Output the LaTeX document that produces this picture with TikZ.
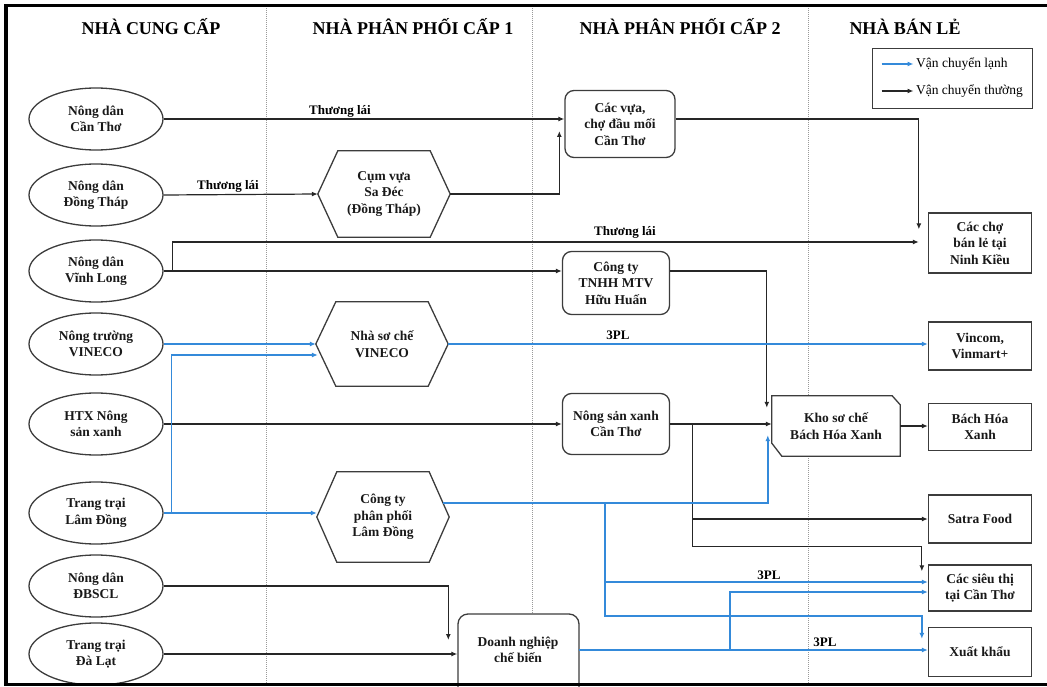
\documentclass[tikz,border=0pt]{standalone}
\usepackage{fontspec}
\setmainfont{Liberation Serif}
\usetikzlibrary{arrows.meta,shapes.geometric,calc}
\pgfdeclarelayer{background}
\pgfsetlayers{background,main}
\definecolor{lblue}{RGB}{52,138,218}
\definecolor{lgray}{RGB}{60,60,60}
\newcommand\hexo[1]{\draw[hexl] ([xshift=20pt]#1.north west) -- ([xshift=-20pt]#1.north east) -- (#1.east) -- ([xshift=-20pt]#1.south east) -- ([xshift=20pt]#1.south west) -- (#1.west) -- cycle;}
\begin{document}
\begin{tikzpicture}[x=1pt,y=-1pt,
  txt/.style={font=\bfseries\fontsize{13.5}{16.5}\selectfont, align=center, text=black!90},
  ell/.style={txt, ellipse, draw=lgray, line width=1.3pt, fill=white, minimum width=134pt, minimum height=62pt, inner sep=0pt},
  hexn/.style={txt, minimum width=132pt, inner sep=0pt},
  hexl/.style={draw=lgray, line width=1.3pt, line join=miter},
  rbox/.style={txt, rectangle, rounded corners=9pt, draw=lgray, line width=1.3pt, fill=white, inner sep=0pt},
  sbox/.style={txt, rectangle, draw=lgray, line width=1.3pt, fill=white, minimum width=103pt, inner sep=0pt},
  head/.style={font=\bfseries\fontsize{18}{20}\selectfont, anchor=base, inner sep=0pt},
  lbl/.style={font=\bfseries\fontsize{13}{15}\selectfont, inner sep=0pt},
  legtxt/.style={font=\fontsize{13.5}{15}\selectfont, inner sep=2pt, anchor=west},
  smalltip/.style={-{Latex[length=6pt,width=5pt]}},
  blk/.style={draw=black!85, line width=1.2pt, smalltip},
  blu/.style={draw=lblue, line width=1.4pt, smalltip},
  sepl/.style={draw=gray!80, line width=0.9pt, dash pattern=on 1pt off 1pt}
]
\path[use as bounding box] (0,0) rectangle (1047,687);
\clip (0,0) rectangle (1047,687);

% headers
\node[head] (h1) at (151,35) {NHÀ CUNG CẤP};
\node[head] (h2) at (413,35) {NHÀ PHÂN PHỐI CẤP 1};
\node[head] (h3) at (680,35) {NHÀ PHÂN PHỐI CẤP 2};
\node[head] (h4) at (905,35) {NHÀ BÁN LẺ};

% legend
\node[draw=lgray, line width=1pt, minimum width=160pt, minimum height=60pt, inner sep=0pt] (legend) at (952,79) {};
\draw[blu] ($(legend.west)+(10,-15)$) -- ++(32,0) node[legtxt] (leg1) {Vận chuyển lạnh};
\draw[blk] ($(legend.west)+(10,12)$) -- ++(32,0) node[legtxt] (leg2) {Vận chuyển thường};

% suppliers
\node[ell] (e1) at (96,119) {Nông dân\\Cần Thơ};
\node[ell] (e2) at (96,195) {Nông dân\\Đồng Tháp};
\node[ell] (e3) at (96,271) {Nông dân\\Vĩnh Long};
\node[ell] (e4) at (96,344) {Nông trường\\VINECO};
\node[ell] (e5) at (96,424) {HTX Nông\\sản xanh};
\node[ell] (e6) at (96,513) {Trang trại\\Lâm Đồng};
\node[ell] (e7) at (96,586) {Nông dân\\ĐBSCL};
\node[ell] (e8) at (96,654) {Trang trại\\Đà Lạt};

% level 1
\node[hexn, minimum height=86pt] (sadec) at (384,194) {Cụm vựa\\Sa Đéc\\(Đồng Tháp)};
\hexo{sadec}
\node[hexn, minimum height=84pt] (vineco) at (382,344) {Nhà sơ chế\\VINECO};
\hexo{vineco}
\node[hexn, minimum height=90pt] (lamdong) at (383,517) {Công ty\\phân phối\\Lâm Đồng};
\hexo{lamdong}
\draw[draw=lgray, line width=1.3pt, fill=white, rounded corners=10pt] (458,700) -- (458,614) -- (579,614) -- (579,700);
\node[txt, minimum width=121pt, inner sep=0pt] (dn) at (518,650) {Doanh nghiệp\\chế biến};

% level 2
\node[rbox, minimum width=110pt, minimum height=67pt] (cacvua) at (620,124) {Các vựa,\\chợ đầu mối\\Cần Thơ};
\node[rbox, minimum width=107pt, minimum height=63pt] (huuhuan) at (616,283) {Công ty\\TNHH MTV\\Hữu Huấn};
\node[rbox, minimum width=107pt, minimum height=61pt] (nsx) at (616,424) {Nông sản xanh\\Cần Thơ};
\node[txt, minimum width=128pt, minimum height=60pt, inner sep=0pt] (kho) at (836,426) {Kho sơ chế\\Bách Hóa Xanh};

% retailers
\node[sbox, minimum height=60pt] (cho) at (980,243) {Các chợ\\bán lẻ tại\\Ninh Kiều};
\node[sbox, minimum height=48pt] (vincom) at (980,346) {Vincom,\\Vinmart+};
\node[sbox, minimum height=47pt] (bhx) at (980,427) {Bách Hóa\\Xanh};
\node[sbox, minimum height=48pt] (satra) at (980,519) {Satra Food};
\node[sbox, minimum height=46pt] (sieuthi) at (980,588) {Các siêu thị\\tại Cần Thơ};
\node[sbox, minimum height=49pt] (xk) at (980,652) {Xuất khẩu};

% background: separators and Kho outline
\begin{pgfonlayer}{background}
\draw[sepl] (266,8) -- (266,683);
\draw[sepl] (532,8) -- (532,683);
\draw[sepl] (808,8) -- (808,683);
\draw[draw=lgray, line width=1.3pt, fill=white] (kho.north west) -- ([xshift=-8pt]kho.north east) -- ([yshift=-9pt]kho.north east) -- (kho.south east) -- ([xshift=10pt]kho.south west) -- ([yshift=13pt]kho.south west) -- cycle;
\end{pgfonlayer}

% black connectors
\draw[blk] (e1.east) -- (e1.east -| cacvua.west);
\node[lbl] (t1) at (340,111) {Thương lái};
\draw[blk] (e2.east) -- (sadec.west);
\node[lbl] (t2) at (228,186) {Thương lái};
\draw[blk] (sadec.east) -| ($(cacvua.west)+(-5,7)$);
\draw[blk] (e3.east) -- (e3.east -| huuhuan.west);
\draw[blk] ($(e3.east)+(9,0)$) |- ($(cho.west)+(-9,-1)$);
\node[lbl] (t3) at (625,232) {Thương lái};
\draw[blk] (cacvua.east |- e1.east) -| ($(cho.north west)+(-9,17)$);
\draw[blk] (huuhuan.east |- e3.east) -| ($(kho.north west)+(-5,12)$);
\draw[blk] (e5.east) -- (e5.east -| nsx.west);
\draw[blk] (nsx.east) -- (nsx.east -| kho.west);
\coordinate (j1) at ($(nsx.east)+(22,0)$);
\draw[blk] (j1) |- (satra.west);
\draw[blk] (j1) |- ($(sieuthi.north west)+(-6,-18)$) -- ($(sieuthi.north west)+(-6,7)$);
\draw[blk] (kho.east) -- (kho.east -| bhx.west);
\draw[blk] (e7.east) -| ($(dn.west)+(-9,-10)$);
\draw[blk] (e8.east) -- (e8.east -| dn.west);

% blue connectors
\draw[blu] (e4.east) -- (vineco.west);
\draw[blu] (e6.east) -- (e6.east -| lamdong.west);
\draw[blu] ($(e6.east)+(8,0)$) |- ($(vineco.west)+(2,11)$);
\draw[blu] (vineco.east) -- (vineco.east -| vincom.west);
\node[lbl] (p1) at (618,335) {3PL};
\draw[blu] ($(lamdong.east)+(-6,-14)$) -| ($(kho.south west)+(-4,-21)$);
\coordinate (j2) at (605,503);
\draw[blu] (j2) |- ($(sieuthi.west)+(0,-6)$);
\draw[blu] (j2) |- ($(xk.north west)+(-6,-11)$) -- ($(xk.north west)+(-6,12)$);
\node[lbl] (p2) at (769,575) {3PL};
\draw[blu] (dn.east) -- (dn.east -| xk.west);
\coordinate (j3) at (730,650);
\draw[blu] (j3) |- ($(sieuthi.west)+(0,4)$);
\node[lbl] (p3) at (825,642) {3PL};

% frame
\draw[line width=3.5pt] (1050,5.5) -- (6,5.5) -- (6,684.5) -- (1050,684.5);
\end{tikzpicture}
\end{document}
